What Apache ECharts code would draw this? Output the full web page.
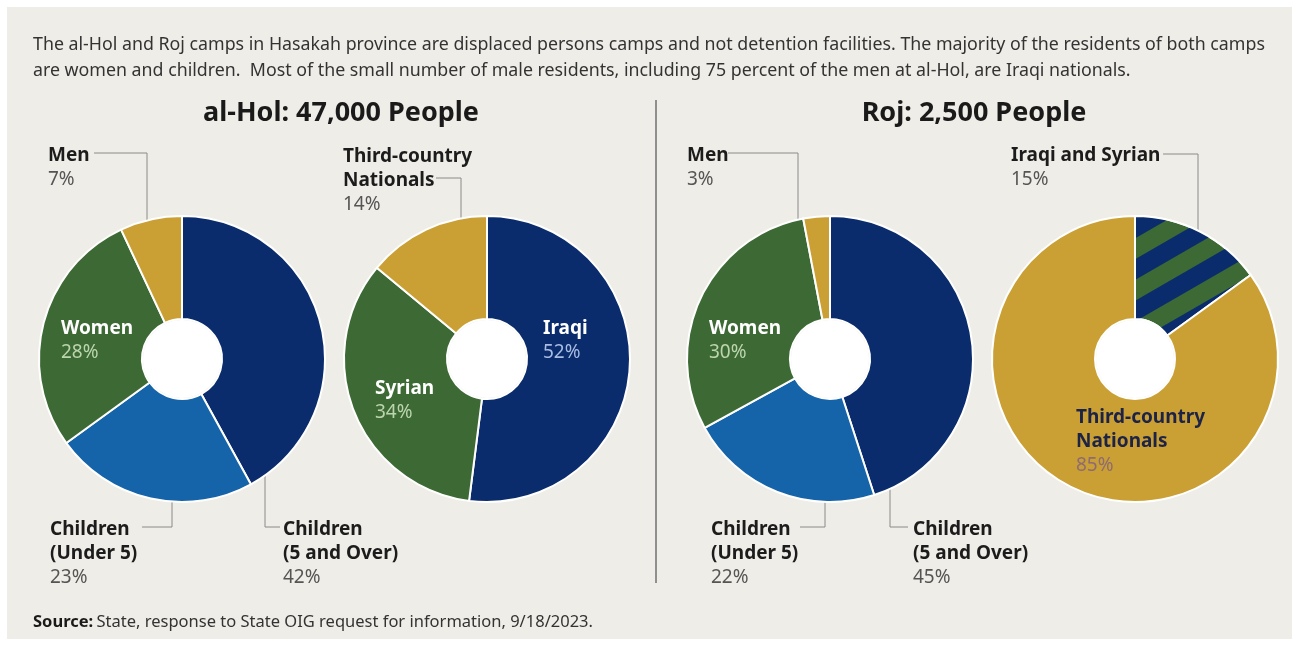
<!DOCTYPE html>
<html>
<head>
    <meta charset="utf-8">
    <title>al-Hol and Roj camps</title>
    <script src="https://cdn.jsdelivr.net/npm/echarts@6/dist/echarts.min.js"></script>
    <style>
        html, body { margin: 0; padding: 0; background: #ffffff; }
        #chart { width: 1299px; height: 646px; }
    </style>
</head>
<body>
<div id="chart"></div>
<script>
    // data
    const demoNames = ['Children\n(5 and Over)', 'Children\n(Under 5)', 'Women', 'Men'];
    const holDemoValues = [42, 23, 28, 7];
    const rojDemoValues = [45, 22, 30, 3];
    const holNatNames = ['Iraqi', 'Syrian', 'Third-country\nNationals'];
    const holNatValues = [52, 34, 14];
    const rojNatNames = ['Iraqi and Syrian', 'Third-country\nNationals'];
    const rojNatValues = [15, 85];

    const NAVY = '#0a2c6c', BLUE = '#1563a8', GREEN = '#3d6a34', GOLD = '#caa034';
    const FONT = 'Noto Sans';
    const R_IN = 40, R_OUT = 143;
    const centers = [[182, 359], [487, 359], [830, 359], [1135, 359]];

    // label placement: top-left of the label, and leader line (vertical x, horizontal y, line end x)
    const layouts = [
        [
            { x: 283, y: 518, vx: 265, hy: 527, ex: 280, side: 1 },
            { x: 50, y: 518, vx: 172, hy: 527, ex: 142, side: 1 },
            { x: 61, y: 317 },
            { x: 48, y: 144, vx: 147, hy: 153, ex: 94, side: -1 }
        ],
        [
            { x: 543, y: 317 },
            { x: 375, y: 377 },
            { x: 343, y: 145, vx: 461, hy: 178, ex: 436, side: -1 }
        ],
        [
            { x: 913, y: 518, vx: 890, hy: 527, ex: 908, side: 1 },
            { x: 711, y: 518, vx: 825, hy: 527, ex: 800, side: 1 },
            { x: 709, y: 317 },
            { x: 687, y: 144, vx: 798, hy: 153, ex: 728, side: -1 }
        ],
        [
            { x: 1011, y: 144, vx: 1198, hy: 154, ex: 1163, side: -1 },
            { x: 1076, y: 406 }
        ]
    ];

    const outsideLabel = { b: '#1c1c1c', p: '#555555' };
    const labelColors = [
        [outsideLabel, outsideLabel, { b: '#ffffff', p: '#bcd5ae' }, outsideLabel],
        [{ b: '#ffffff', p: '#a9bce2' }, { b: '#ffffff', p: '#bcd5ae' }, outsideLabel],
        [outsideLabel, outsideLabel, { b: '#ffffff', p: '#bcd5ae' }, outsideLabel],
        [outsideLabel, { b: '#1d2347', p: '#8e6b72' }]
    ];

    function fmt(p) {
        return p.name.split('\n').map(function (s) { return '{b|' + s + '}'; }).join('\n') + '\n{p|' + p.value + '%}';
    }

    function makeData(si, names, values, colors) {
        return values.map(function (v, i) {
            const lay = layouts[si][i];
            const lc = labelColors[si][i];
            return {
                name: names[i],
                value: v,
                itemStyle: { color: colors[i] },
                label: {
                    position: lay.vx ? 'outside' : 'inside',
                    rich: {
                        b: { color: lc.b, fontWeight: 'bold', fontSize: 19, lineHeight: 24, fontFamily: FONT },
                        p: { color: lc.p, fontSize: 19, lineHeight: 24, fontFamily: FONT }
                    }
                },
                labelLine: { show: !!lay.vx }
            };
        });
    }

    function makeSeries(si, data) {
        const c = centers[si];
        return {
            type: 'pie',
            center: c,
            radius: [R_IN, R_OUT],
            startAngle: 90,
            clockwise: true,
            silent: true,
            avoidLabelOverlap: false,
            itemStyle: { borderColor: '#ffffff', borderWidth: 2 },
            label: { show: true, formatter: fmt },
            labelLine: { show: true, lineStyle: { color: '#8a8a8a', width: 1 } },
            labelLayout: function (params) {
                const lay = layouts[si][params.dataIndex];
                const out = { x: lay.x, y: lay.y, align: 'left', verticalAlign: 'top' };
                if (lay.vx) {
                    const dx = lay.vx - c[0];
                    const ey = c[1] + lay.side * Math.sqrt(R_OUT * R_OUT - dx * dx);
                    out.labelLinePoints = [[lay.vx, ey], [lay.vx, lay.hy], [lay.ex, lay.hy]];
                }
                return out;
            },
            data: data
        };
    }

    const holDemo = makeData(0, demoNames, holDemoValues, [NAVY, BLUE, GREEN, GOLD]);
    const holNat = makeData(1, holNatNames, holNatValues, [NAVY, GREEN, GOLD]);
    const rojDemo = makeData(2, demoNames, rojDemoValues, [NAVY, BLUE, GREEN, GOLD]);
    const rojNat = makeData(3, rojNatNames, rojNatValues, [GREEN, GOLD]);
    // striped slice: navy stripes over green
    rojNat[0].itemStyle.decal = {
        symbol: 'rect',
        color: NAVY,
        dashArrayX: [1, 0],
        dashArrayY: [18, 18],
        rotation: -Math.PI * 30 / 180
    };

    const holes = centers.map(function (c) {
        return { type: 'circle', shape: { cx: c[0], cy: c[1], r: R_IN - 1 }, style: { fill: '#ffffff' }, z: 100 };
    });

    const chart = echarts.init(document.getElementById('chart'), null, { renderer: 'canvas' });
    chart.setOption({
        animation: false,
        backgroundColor: '#ffffff',
        graphic: [
            { type: 'rect', shape: { x: 7, y: 7, width: 1285, height: 632 }, style: { fill: '#efede7' }, z: -10 },
            {
                type: 'text', left: 33, top: 32,
                style: {
                    text: 'The al-Hol and Roj camps in Hasakah province are displaced persons camps and not detention facilities. The majority of the residents of both camps\nare women and children.  Most of the small number of male residents, including 75 percent of the men at al-Hol, are Iraqi nationals.',
                    font: '17.8px "Noto Sans"', lineHeight: 26, fill: '#333333'
                }
            },
            {
                type: 'text', x: 341, y: 113,
                style: { text: 'al-Hol: 47,000 People', font: 'bold 27px "Noto Sans"', fill: '#1a1a1a', align: 'center', verticalAlign: 'middle' }
            },
            {
                type: 'text', x: 974, y: 113,
                style: { text: 'Roj: 2,500 People', font: 'bold 27px "Noto Sans"', fill: '#1a1a1a', align: 'center', verticalAlign: 'middle' }
            },
            { type: 'line', shape: { x1: 656, y1: 100, x2: 656, y2: 583 }, style: { stroke: '#8f8f8f', lineWidth: 2 } },
            {
                type: 'text', x: 33, y: 622,
                style: {
                    text: '{s|Source:} {t|State, response to State OIG request for information, 9/18/2023.}',
                    verticalAlign: 'middle',
                    rich: {
                        s: { fontWeight: 'bold', fontSize: 16.5, fontFamily: FONT, fill: '#1a1a1a' },
                        t: { fontSize: 16.5, fontFamily: FONT, fill: '#333333' }
                    }
                }
            }
        ].concat(holes),
        series: [
            makeSeries(0, holDemo),
            makeSeries(1, holNat),
            makeSeries(2, rojDemo),
            makeSeries(3, rojNat)
        ]
    });
</script>
</body>
</html>
